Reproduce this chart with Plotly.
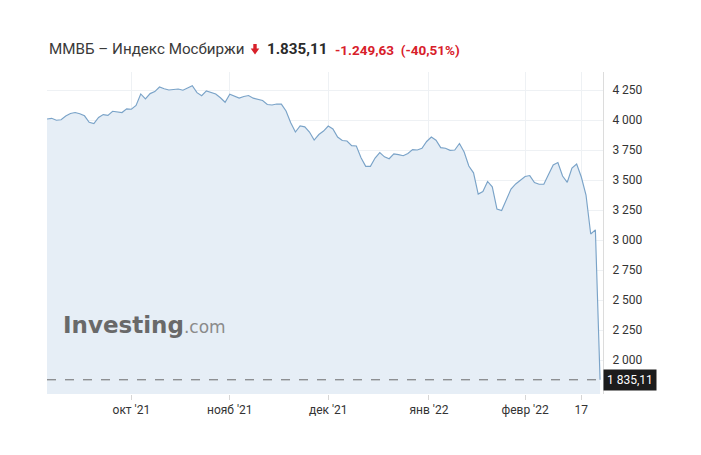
import pandas as pd
import plotly.graph_objects as go

# ---------------- data ----------------
holidays = ["2021-11-04", "2021-12-31", "2022-01-07", "2022-02-23"]
dates = [d for d in pd.bdate_range("2021-09-07", "2022-02-24")
         if d.strftime("%Y-%m-%d") not in holidays]

values = [
    4008, 4014, 3998, 4002, 4033, 4054, 4062, 4052, 4035, 3981,
    3971, 4021, 4045, 4039, 4073, 4067, 4062, 4093, 4090, 4121,
    4217, 4175, 4220, 4237, 4275, 4260, 4250, 4254, 4258, 4248,
    4270, 4286, 4228, 4202, 4243, 4233, 4217, 4185, 4148, 4214,
    4198, 4183, 4196, 4204, 4182, 4175, 4162, 4129, 4125, 4133,
    4132, 4075, 3977, 3900, 3950, 3943, 3900, 3833, 3879, 3908,
    3950, 3925, 3858, 3829, 3825, 3786, 3783, 3685, 3614, 3614,
    3683, 3729, 3693, 3677, 3718, 3711, 3702, 3721, 3753, 3750,
    3764, 3821, 3858, 3832, 3770, 3765, 3747, 3750, 3804, 3733,
    3617, 3560, 3383, 3404, 3488, 3443, 3258, 3246, 3333, 3425,
    3467, 3500, 3529, 3537, 3479, 3465, 3465, 3546, 3625, 3646,
    3533, 3481, 3600, 3633, 3525, 3375, 3050, 3084.74, 1835.11,
]

x_tick_vals = ["2021-10-01", "2021-11-01", "2021-12-01", "2021-12-30 12:00", "2022-02-01", "2022-02-17"]
x_tick_text = ["окт '21", "нояб '21", "дек '21", "янв '22", "февр '22", "17"]

y_tick_vals = [2000, 2250, 2500, 2750, 3000, 3250, 3500, 3750, 4000, 4250]
y_tick_text = ["2 000", "2 250", "2 500", "2 750", "3 000", "3 250", "3 500", "3 750", "4 000", "4 250"]

title_name = "ММВБ – Индекс Мосбиржи"
last_text = "1.835,11"
change_text = "-1.249,63 (-40,51%)"
last_label = "1 835,11"
last_value = values[-1]

# ---------------- layout geometry ----------------
# page body has an 8px default margin: screen px = figure px + 8
OFF = 8
W_PX, H_PX = 701 - OFF, 455 - OFF
L, R, T, B = 47 - OFF, 603 - OFF, 72 - OFF, 394 - OFF


def px(x_screen):
    return (x_screen - OFF - L) / (R - L)


def py(y_screen):
    return (B - (y_screen - OFF)) / (B - T)


FONT = "Roboto, Arial, sans-serif"

fig = go.Figure()
fig.add_trace(go.Scatter(
    x=dates, y=values, mode="lines",
    line=dict(color="#7aa3c8", width=1.15),
    fill="tozeroy", fillcolor="#e6eef6",
    hoverinfo="skip", showlegend=False,
))

fig.add_hline(y=last_value, line=dict(color="#6a6a6a", width=1, dash="dash"))

annotations = [
    dict(x=px(47), y=py(49), xref="paper", yref="paper", xanchor="left", yanchor="middle",
         text=title_name, showarrow=False, font=dict(family=FONT, size=15.2, color="#3a3a3a")),
    dict(x=px(265), y=py(49), xref="paper", yref="paper", xanchor="left", yanchor="middle",
         text="<b>" + last_text + "</b>", showarrow=False, font=dict(family=FONT, size=15.2, color="#2b2b2b")),
    dict(x=px(333), y=py(49.5), xref="paper", yref="paper", xanchor="left", yanchor="middle",
         text="<b>" + change_text.replace(" ", "&nbsp;&nbsp;") + "</b>", showarrow=False,
         font=dict(family=FONT, size=13.5, color="#d8202a")),
    dict(x=1, y=last_value, xref="paper", yref="y", xanchor="left", yanchor="middle",
         text=last_label, showarrow=False, bgcolor="#1c1c1c", borderpad=3,
         font=dict(family=FONT, size=12, color="#ffffff")),
    dict(x=px(61), y=py(325), xref="paper", yref="paper", xanchor="left", yanchor="middle",
         text="<b>Investing</b><span style='font-size:17px;font-weight:normal;fill:#8a8a8a'>.com</span>",
         showarrow=False, font=dict(family="DejaVu Sans, sans-serif", size=23, color="#696969")),
]

# red down-arrow icon
arrow_path = "M {a},{b} L {c},{b} L {c},{d} L {e},{d} L {f},{g} L {h},{d} L {a},{d} Z".format(
    a=px(253.3), c=px(256.7), b=py(44), d=py(48.5), e=px(259.3), f=px(255), g=py(54.5), h=px(250.7))

fig.add_shape(type="path", path=arrow_path, xref="paper", yref="paper",
              fillcolor="#d8202a", line=dict(width=0))

fig.update_layout(
    width=W_PX, height=H_PX,
    margin=dict(l=L, r=W_PX - R, t=T, b=H_PX - B, pad=0),
    paper_bgcolor="white", plot_bgcolor="white",
    annotations=annotations,
    showlegend=False,
    xaxis=dict(
        type="date",
        range=["2021-09-07", "2022-02-24 15:00"],
        rangebreaks=[dict(bounds=["sat", "mon"]), dict(values=holidays)],
        tickvals=x_tick_vals, ticktext=x_tick_text,
        ticks="outside", ticklen=5, tickcolor="#d6d6d6",
        showgrid=True, gridcolor="#eef1f4", gridwidth=1,
        showline=False, zeroline=False,
        tickfont=dict(family=FONT, size=12, color="#333333"),
        fixedrange=True,
    ),
    yaxis=dict(
        side="right",
        range=[2000 - 34 / 0.12, 4250 + 18 / 0.12],
        tickvals=y_tick_vals, ticktext=y_tick_text,
        ticks="outside", ticklen=6, tickcolor="rgba(0,0,0,0)",
        showgrid=True, gridcolor="#eef1f4", gridwidth=1,
        showline=True, linecolor="#dcdcdc", linewidth=1,
        zeroline=False,
        tickfont=dict(family=FONT, size=12, color="#333333"),
        fixedrange=True,
    ),
)

fig.write_html("out.html")
